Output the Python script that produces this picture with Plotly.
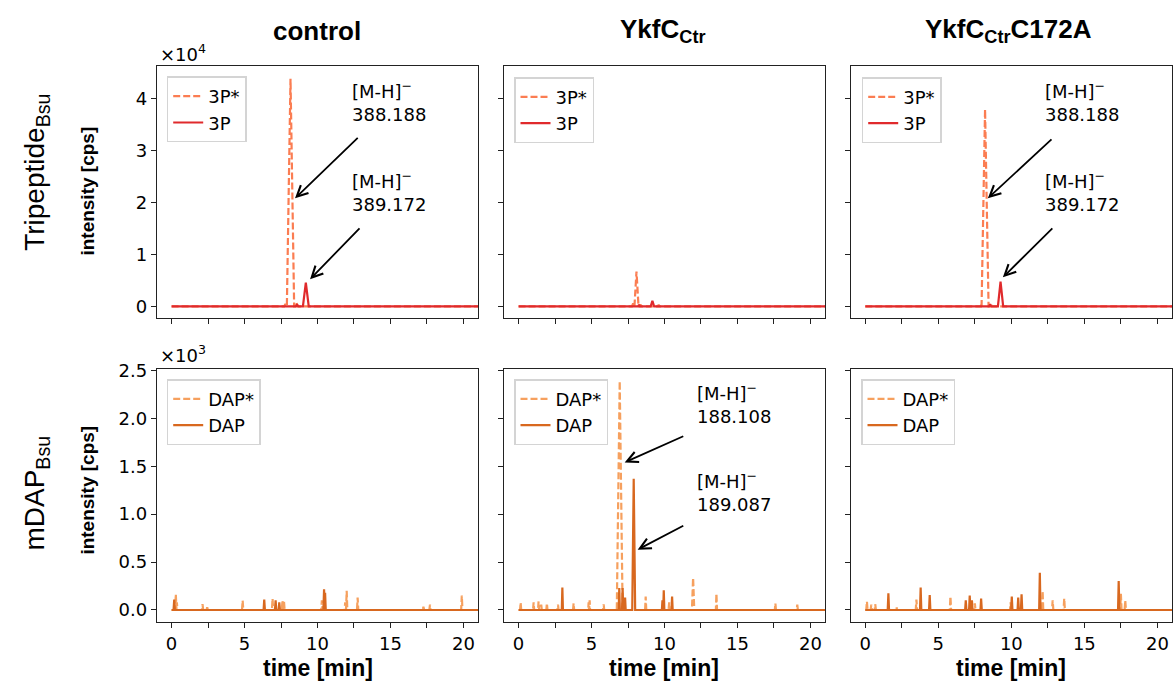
import plotly.graph_objects as go

# ---------------- data ----------------
# Top row: intensity in units of 1e4 cps ; bottom row: units of 1e3 cps
# control
ctrl_3Ps_t = [7.8, 8.15, 8.55]
ctrl_3Ps_h = [0.05, 4.38, 0.08]
ctrl_3Ps_w = [0.08, 0.25, 0.08]
ctrl_3P_t = [8.6, 9.2]
ctrl_3P_h = [0.04, 0.46]
ctrl_3P_w = [0.08, 0.2]
# YkfC_Ctr
ykf_3Ps_t = [7.85, 8.08, 8.35, 9.6]
ykf_3Ps_h = [0.06, 0.67, 0.04, 0.03]
ykf_3Ps_w = [0.08, 0.14, 0.06, 0.06]
ykf_3P_t = [8.25, 9.17]
ykf_3P_h = [0.03, 0.11]
ykf_3P_w = [0.06, 0.12]
# YkfC_Ctr C172A
mut_3Ps_t = [7.95, 8.2, 8.6]
mut_3Ps_h = [0.04, 3.79, 0.05]
mut_3Ps_w = [0.06, 0.24, 0.06]
mut_3P_t = [8.55, 9.26]
mut_3P_h = [0.04, 0.48]
mut_3P_w = [0.08, 0.18]

# bottom row (spikes)
ctrl_DAPs_t = [0.29, 0.36, 2.12, 2.44, 4.87, 6.92, 7.6, 7.7, 10.3, 11.9, 12.0, 12.75, 17.26, 17.71, 19.89]
ctrl_DAPs_h = [0.165, 0.08, 0.06, 0.03, 0.10, 0.12, 0.10, 0.10, 0.10, 0.08, 0.20, 0.13, 0.035, 0.055, 0.15]
ctrl_DAP_t = [0.18, 6.35, 7.13, 7.38, 10.45, 10.52]
ctrl_DAP_h = [0.11, 0.11, 0.10, 0.08, 0.216, 0.18]

ykf_DAPs_t = [0.14, 1.03, 1.37, 1.55, 1.94, 2.7, 3.77, 4.8, 4.87, 5.83, 6.93, 8.71, 10.32, 11.96, 13.56, 17.6, 19.1]
ykf_DAPs_h = [0.08, 0.08, 0.09, 0.055, 0.07, 0.055, 0.07, 0.08, 0.10, 0.06, 2.39, 0.14, 0.08, 0.337, 0.17, 0.07, 0.055]
ykf_DAPs_w = [0.04, 0.04, 0.04, 0.04, 0.04, 0.04, 0.04, 0.03, 0.03, 0.04, 0.2, 0.04, 0.04, 0.08, 0.04, 0.04, 0.04]
ykf_DAP_t = [3.0, 6.9, 7.13, 7.3, 7.89, 9.86, 9.95, 10.52]
ykf_DAP_h = [0.234, 0.23, 0.23, 0.13, 1.37, 0.10, 0.206, 0.14]
ykf_DAP_w = [0.04, 0.04, 0.04, 0.04, 0.1, 0.04, 0.04, 0.04]

mut_DAPs_t = [0.11, 0.41, 0.68, 2.13, 3.5, 5.83, 7.5, 9.95, 12.14, 12.83, 13.62, 17.5, 17.8]
mut_DAPs_h = [0.09, 0.055, 0.06, 0.035, 0.11, 0.14, 0.07, 0.08, 0.20, 0.10, 0.12, 0.17, 0.10]
mut_DAP_t = [1.58, 3.79, 4.41, 6.88, 7.15, 7.3, 7.93, 10.03, 10.47, 10.7, 11.95, 17.35]
mut_DAP_h = [0.175, 0.234, 0.155, 0.10, 0.15, 0.10, 0.12, 0.14, 0.13, 0.165, 0.388, 0.302]

col_titles = ["control", "YkfC<sub>Ctr</sub>", "YkfC<sub>Ctr</sub>C172A"]
row_titles = ["Tripeptide<sub>Bsu</sub>", "mDAP<sub>Bsu</sub>"]
x_ticks = [0, 2.5, 5, 7.5, 10, 12.5, 15, 17.5, 20]
x_ticktext = ["0", "", "5", "", "10", "", "15", "", "20"]
y1_ticks = [0, 1, 2, 3, 4]
y2_ticks = [0, 0.5, 1.0, 1.5, 2.0, 2.5]
y2_ticktext = ["0.0", "0.5", "1.0", "1.5", "2.0", "2.5"]

C_3PS = "#FB7D52"
C_3P = "#E02A2C"
C_DAPS = "#F6A05E"
C_DAP = "#D8681F"

SPIKE_W = 0.045
END_T = 22.0


def chrom(ts, hs, ws=None):
    if ws is None:
        ws = [SPIKE_W] * len(ts)
    xs, ys = [0.0], [0.0]
    for t, h, w in sorted(zip(ts, hs, ws)):
        xs += [t - w, t, t + w]
        ys += [0.0, h, 0.0]
    xs.append(END_T)
    ys.append(0.0)
    return xs, ys


fig = go.Figure()

x_domains = [[157 / 1174, 478 / 1174], [504 / 1174, 825 / 1174], [850.7 / 1174, 1172 / 1174]]
y_domains = [[1 - 313 / 688, 1 - 58 / 688], [1 - 621 / 688, 1 - 364.3 / 688]]

DASH = "7px,3px"
series = [
    (0, 0, "3P*", chrom(ctrl_3Ps_t, ctrl_3Ps_h, ctrl_3Ps_w), C_3PS, DASH),
    (0, 0, "3P", chrom(ctrl_3P_t, ctrl_3P_h, ctrl_3P_w), C_3P, "solid"),
    (0, 1, "3P*", chrom(ykf_3Ps_t, ykf_3Ps_h, ykf_3Ps_w), C_3PS, DASH),
    (0, 1, "3P", chrom(ykf_3P_t, ykf_3P_h, ykf_3P_w), C_3P, "solid"),
    (0, 2, "3P*", chrom(mut_3Ps_t, mut_3Ps_h, mut_3Ps_w), C_3PS, DASH),
    (0, 2, "3P", chrom(mut_3P_t, mut_3P_h, mut_3P_w), C_3P, "solid"),
    (1, 0, "DAP*", chrom(ctrl_DAPs_t, ctrl_DAPs_h), C_DAPS, DASH),
    (1, 0, "DAP", chrom(ctrl_DAP_t, ctrl_DAP_h), C_DAP, "solid"),
    (1, 1, "DAP*", chrom(ykf_DAPs_t, ykf_DAPs_h, ykf_DAPs_w), C_DAPS, DASH),
    (1, 1, "DAP", chrom(ykf_DAP_t, ykf_DAP_h, ykf_DAP_w), C_DAP, "solid"),
    (1, 2, "DAP*", chrom(mut_DAPs_t, mut_DAPs_h), C_DAPS, DASH),
    (1, 2, "DAP", chrom(mut_DAP_t, mut_DAP_h), C_DAP, "solid"),
]

for r, c, name, (xs, ys), color, dash in series:
    idx = r * 3 + c + 1
    sfx = "" if idx == 1 else str(idx)
    fig.add_trace(go.Scatter(
        x=xs, y=ys, mode="lines", name=name,
        line=dict(color=color, width=2.2, dash=dash),
        xaxis="x" + sfx, yaxis="y" + sfx,
        legend="legend" + sfx, showlegend=True,
    ))

tickfont = dict(family="DejaVu Sans", size=18, color="black")
legend_pos = [(166.7, 68.3), (514, 69), (861.7, 69), (166.7, 375), (514, 375), (861, 375)]

layout = dict(
    width=1174, height=688, autosize=False,
    margin=dict(l=0, r=0, t=0, b=0),
    plot_bgcolor="white", paper_bgcolor="white",
    font=dict(family="DejaVu Sans", size=18, color="black"),
)

for r in range(2):
    for c in range(3):
        idx = r * 3 + c + 1
        sfx = "" if idx == 1 else str(idx)
        xa = dict(
            domain=x_domains[c], range=[-1, 21], anchor="y" + sfx,
            tickvals=x_ticks, ticktext=x_ticktext, ticks="outside", ticklen=5,
            tickwidth=1.2, tickcolor="#222", showline=True, mirror=True,
            linecolor="#222", linewidth=1.3, showgrid=False, zeroline=False,
            tickfont=tickfont, showticklabels=(r == 1),
        )
        if r == 0:
            ya = dict(range=[-0.22, 4.62], tickvals=y1_ticks, ticktext=[str(v) for v in y1_ticks])
        else:
            ya = dict(range=[-0.124, 2.52], tickvals=y2_ticks, ticktext=y2_ticktext)
        ya.update(
            domain=y_domains[r], anchor="x" + sfx, ticks="outside", ticklen=5,
            tickwidth=1.2, tickcolor="#222", showline=True, mirror=True,
            linecolor="#222", linewidth=1.3, showgrid=False, zeroline=False,
            tickfont=tickfont, showticklabels=(c == 0),
        )
        layout["xaxis" + sfx] = xa
        layout["yaxis" + sfx] = ya
        lx, ly = legend_pos[idx - 1]
        layout["legend" + sfx] = dict(
            x=lx / 1174, y=1 - ly / 688, xanchor="left", yanchor="top",
            bgcolor="white", bordercolor="#d4d4d4", borderwidth=1.5,
            font=dict(family="DejaVu Sans", size=18, color="black"),
            tracegroupgap=0, itemwidth=30,
        )

fig.update_layout(**layout)

ann = []
for cx, t in zip([317, 663, 1008], col_titles):
    ann.append(dict(text="<b>" + t + "</b>", x=cx / 1174, y=1 - 22 / 688, xref="paper", yref="paper",
                    showarrow=False, font=dict(family="Liberation Sans", size=26, color="black"),
                    xanchor="center", yanchor="middle"))
for cy, t in zip([165, 490], row_titles):
    ann.append(dict(text=t, x=37 / 1174, y=1 - cy / 688, xref="paper", yref="paper", textangle=-90,
                    showarrow=False, font=dict(family="Liberation Sans", size=28, color="black"),
                    xanchor="center", yanchor="middle"))
for cy in [185, 488]:
    ann.append(dict(text="<b>intensity [cps]</b>", x=88 / 1174, y=1 - cy / 688, xref="paper", yref="paper",
                    textangle=-90, showarrow=False,
                    font=dict(family="Liberation Sans", size=19, color="black"),
                    xanchor="center", yanchor="middle"))
for cx in [318, 664, 1011]:
    ann.append(dict(text="<b>time [min]</b>", x=cx / 1174, y=1 - 668 / 688, xref="paper", yref="paper",
                    showarrow=False, font=dict(family="Liberation Sans", size=23, color="black"),
                    xanchor="center", yanchor="middle"))
for cy, t in [(45, "×10<sup>4</sup>"), (350, "×10<sup>3</sup>")]:
    ann.append(dict(text=t, x=158 / 1174, y=1 - cy / 688, xref="paper", yref="paper",
                    showarrow=False, font=dict(family="DejaVu Sans", size=18, color="black"),
                    xanchor="left", yanchor="middle"))

peak_labels = [
    ("", 12.2, 3.95, "[M-H]<sup>−</sup><br>388.188", 12.86, 3.27, 8.46, 2.08),
    ("", 12.2, 2.21, "[M-H]<sup>−</sup><br>389.172", 12.98, 1.53, 9.49, 0.525),
    ("3", 12.18, 3.95, "[M-H]<sup>−</sup><br>388.188", 12.85, 3.24, 8.39, 2.08),
    ("3", 12.18, 2.21, "[M-H]<sup>−</sup><br>389.172", 12.91, 1.53, 9.42, 0.56),
    ("5", 12.07, 2.16, "[M-H]<sup>−</sup><br>188.108", 11.39, 1.82, 7.27, 1.54),
    ("5", 12.07, 1.24, "[M-H]<sup>−</sup><br>189.087", 11.39, 0.887, 8.16, 0.63),
]
for sfx, tx, ty, txt, ax, ay, hx, hy in peak_labels:
    ann.append(dict(text=txt, x=tx, y=ty, xref="x" + sfx, yref="y" + sfx, showarrow=False,
                    align="left", xanchor="left", yanchor="middle",
                    font=dict(family="DejaVu Sans", size=18, color="black")))
    ann.append(dict(text="", x=hx, y=hy, xref="x" + sfx, yref="y" + sfx,
                    ax=ax, ay=ay, axref="x" + sfx, ayref="y" + sfx,
                    showarrow=True, arrowhead=5, arrowsize=1.2, arrowwidth=1.8, arrowcolor="black"))

fig.update_layout(annotations=ann)
fig.write_html("out.html", config={"displayModeBar": False},
               post_script="document.body.style.margin='0';document.body.style.overflow='hidden';")
